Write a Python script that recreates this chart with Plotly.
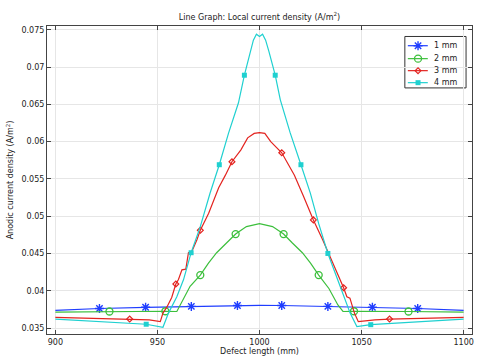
import plotly.graph_objects as go

# ---------------- data ----------------
series_names = ["1 mm", "2 mm", "3 mm", "4 mm"]

x_1mm = [900, 921.6, 944.2, 966.6, 989.2, 1000, 1010.9, 1033.5, 1055.3, 1077.5, 1100]
y_1mm = [0.03736, 0.03762, 0.03778, 0.0379, 0.03802, 0.03805, 0.03802, 0.0379, 0.03778, 0.03762, 0.03736]
m_1mm = [1, 2, 3, 4, 6, 7, 8, 9]

x_2mm = [900, 926.5, 953.9, 959.5, 962.5, 966, 971, 975, 979, 983.9, 988.3, 993.6, 1000,
         1006.4, 1011.8, 1016.1, 1021, 1025, 1029, 1034, 1038.4, 1040.9, 1046.3, 1073, 1100]
y_2mm = [0.03712, 0.03722, 0.03725, 0.03722, 0.0388, 0.0406, 0.0421, 0.0437, 0.0451, 0.0464, 0.0476, 0.0486, 0.0490,
         0.0486, 0.0476, 0.0464, 0.0451, 0.0437, 0.0421, 0.0403, 0.0381, 0.03722, 0.03725, 0.03722, 0.03712]
m_2mm = [1, 2, 6, 10, 14, 18, 22, 23]

x_3mm = [900, 936.4, 946, 951.4, 952.7, 954.6, 957, 959, 960.3, 962, 963.9, 965.2, 966.9, 969.3, 971,
         975.1, 980, 983.3, 986.5, 990.9, 994.2, 997.4, 1000, 1002.6, 1005.5, 1010.9, 1017.1, 1021.5,
         1026.4, 1031, 1035.1, 1038.5, 1041.2, 1042.8, 1044.3, 1046.5, 1048.4, 1056.5, 1063.7, 1100]
y_3mm = [0.03642, 0.0362, 0.0361, 0.03585, 0.0370, 0.0378, 0.0391, 0.0409, 0.0415, 0.0428, 0.0429, 0.0451, 0.0453, 0.0468, 0.0481,
         0.0504, 0.0538, 0.0555, 0.0573, 0.0589, 0.0605, 0.0611, 0.0612, 0.0611, 0.0600, 0.0585, 0.0555, 0.0527,
         0.0495, 0.0468, 0.0442, 0.0422, 0.0404, 0.0392, 0.0390, 0.0370, 0.03585, 0.0361, 0.0362, 0.03642]
m_3mm = [1, 7, 14, 18, 25, 28, 32, 38]

x_4mm = [900, 944.5, 952.7, 955.4, 959.5, 962.8, 966.5, 971, 975.8, 980.3, 984.8, 989.7, 992.6, 995.4, 997, 998.5,
         1000, 1001.5, 1003, 1004.6, 1007.7, 1010.2, 1015, 1020.3, 1024.9, 1029, 1033.5, 1039.5, 1044.4, 1047.7, 1054.5, 1100]
y_4mm = [0.0362, 0.03551, 0.0351, 0.0370, 0.0392, 0.0415, 0.0451, 0.0486, 0.0531, 0.0569, 0.0611, 0.0652, 0.0689, 0.0721, 0.0736, 0.0744,
         0.0741, 0.0744, 0.0736, 0.0721, 0.0689, 0.0656, 0.0612, 0.0569, 0.0531, 0.0490, 0.0450, 0.0406, 0.0370, 0.0352, 0.03545, 0.0362]
m_4mm = [1, 6, 9, 12, 20, 23, 26, 30]

x_ticks = [900, 950, 1000, 1050, 1100]
x_tick_labels = ["900", "950", "1000", "1050", "1100"]
y_ticks = [0.035, 0.04, 0.045, 0.05, 0.055, 0.06, 0.065, 0.07, 0.075]
y_tick_labels = ["0.035", "0.04", "0.045", "0.05", "0.055", "0.06", "0.065", "0.07", "0.075"]

# ---------------- styles ----------------
colors = ["#1f3dff", "#3cbf3c", "#e3231f", "#1fd0d0"]
symbols = ["asterisk-open", "circle-open", "diamond-open", "square"]
msizes = [7.5, 7, 4.5, 5]
mlw = [1.4, 1.3, 1.2, 0]

FONT = "DejaVu Sans"
FS = 8
TXT = "#222"

# legend box layout (fractions of plot area)
LEG_X0, LEG_X1, LEG_Y0, LEG_Y1 = 0.842, 0.986, 0.799, 0.966
LEG_ROWS = [0.936, 0.894, 0.855, 0.816]
LEG_LINE = (0.849, 0.896)
LEG_MARK = 0.873
LEG_TEXT = 0.905

fig = go.Figure()

data = [(x_1mm, y_1mm, m_1mm), (x_2mm, y_2mm, m_2mm), (x_3mm, y_3mm, m_3mm), (x_4mm, y_4mm, m_4mm)]
for i, (xs, ys, mi) in enumerate(data):
    c = colors[i]
    marker = dict(symbol=symbols[i], size=msizes[i], color=c, line=dict(color=c, width=mlw[i]))
    fig.add_trace(go.Scatter(x=xs, y=ys, mode="lines", line=dict(color=c, width=1.2),
                             showlegend=False, name=series_names[i]))
    fig.add_trace(go.Scatter(x=[xs[k] for k in mi], y=[ys[k] for k in mi], mode="markers",
                             marker=marker, showlegend=False, name=series_names[i]))
    # legend sample (on overlay axes spanning the plot area)
    ry = LEG_ROWS[i]
    fig.add_trace(go.Scatter(x=list(LEG_LINE), y=[ry, ry], mode="lines", line=dict(color=c, width=1.2),
                             xaxis="x2", yaxis="y2", showlegend=False, hoverinfo="skip"))
    fig.add_trace(go.Scatter(x=[LEG_MARK], y=[ry], mode="markers", marker=marker,
                             xaxis="x2", yaxis="y2", showlegend=False, hoverinfo="skip"))
    fig.add_annotation(x=LEG_TEXT, y=ry, xref="paper", yref="paper", text=series_names[i],
                       showarrow=False, xanchor="left", yanchor="middle",
                       font=dict(family=FONT, size=FS, color=TXT))

fig.add_shape(type="rect", xref="paper", yref="paper", x0=LEG_X0, x1=LEG_X1, y0=LEG_Y0, y1=LEG_Y1,
              line=dict(color="#333", width=1), fillcolor="white", layer="between")

axis_common = dict(showline=True, linecolor="#444", linewidth=1, mirror="ticks", ticks="inside",
                   ticklen=4, tickcolor="#444", showgrid=True, gridcolor="#e6e6e6", gridwidth=1,
                   zeroline=False, tickfont=dict(family=FONT, size=FS, color=TXT))

fig.update_xaxes(range=[895.9, 1104.1], tickvals=x_ticks, ticktext=x_tick_labels,
                 title=dict(text="Defect length (mm)", font=dict(family=FONT, size=FS, color=TXT), standoff=2),
                 **axis_common)
fig.update_yaxes(range=[0.0342, 0.0755], tickvals=y_ticks, ticktext=y_tick_labels,
                 title=dict(text="Anodic current density (A/m<sup>2</sup>)", font=dict(family=FONT, size=FS, color=TXT), standoff=6),
                 **axis_common)

fig.update_layout(
    width=483, height=363,
    margin=dict(l=47, r=11, t=26, b=29, autoexpand=False),
    paper_bgcolor="white", plot_bgcolor="white",
    font=dict(family=FONT, size=FS, color=TXT),
    xaxis2=dict(overlaying="x", range=[0, 1], visible=False, domain=[0, 1]),
    yaxis2=dict(overlaying="y", range=[0, 1], visible=False, domain=[0, 1]),
    title=dict(text="Line Graph: Local current density (A/m<sup>2</sup>)", x=0.5, xref="paper",
               y=1 - 17 / 363, yref="container", yanchor="middle",
               font=dict(family=FONT, size=FS, color=TXT)),
    showlegend=False,
)

fig.write_html("out.html", config={"displayModeBar": False},
               post_script="document.body.style.margin='0px';")
